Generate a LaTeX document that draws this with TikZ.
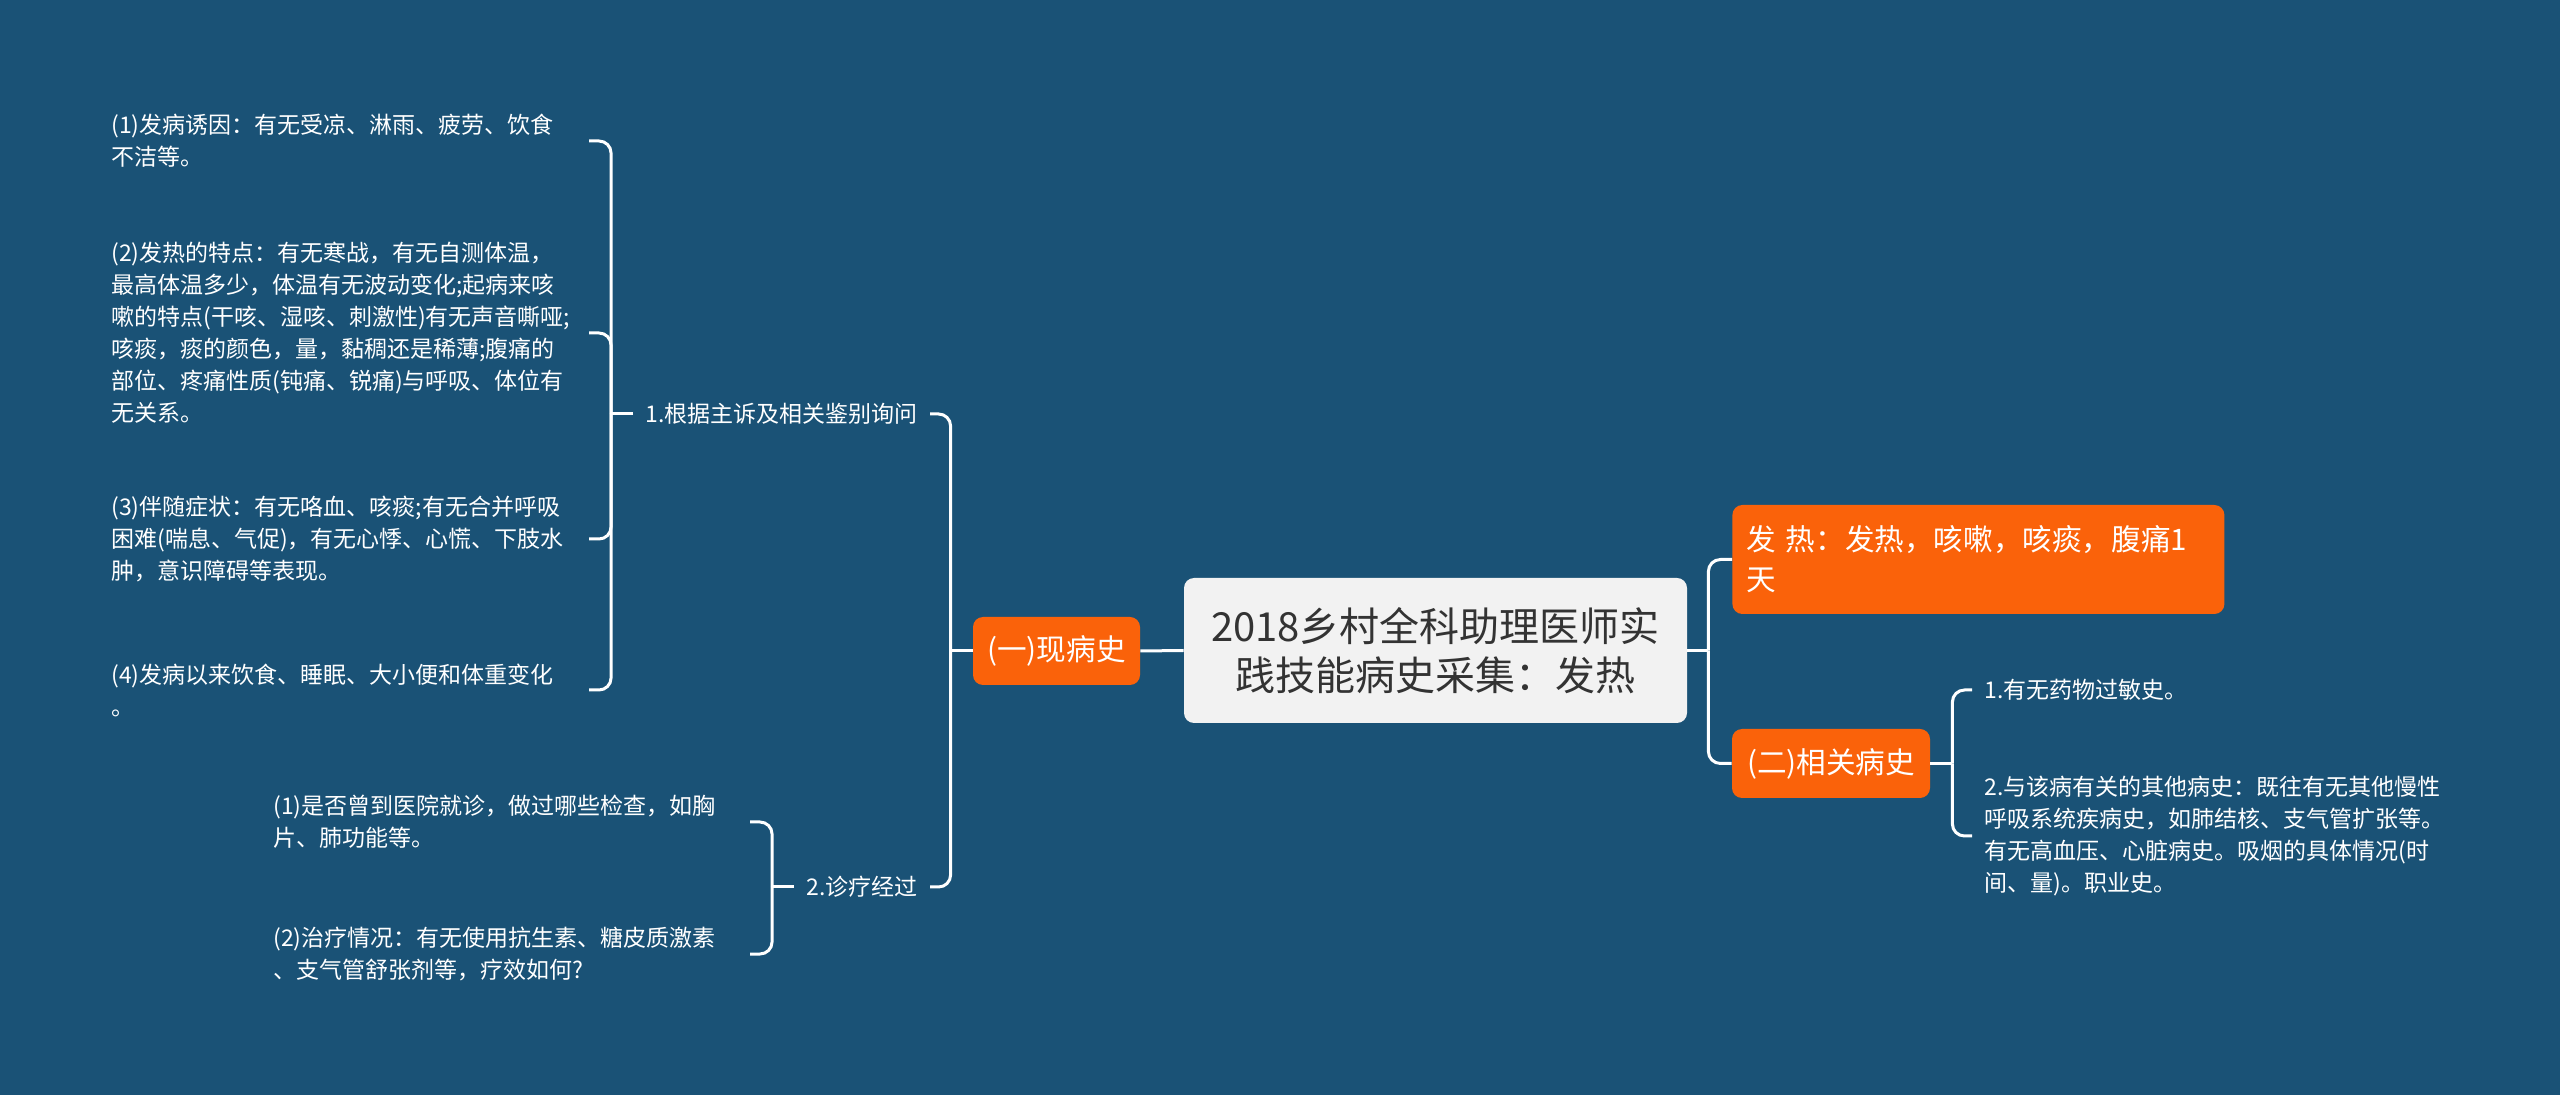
\documentclass[tikz,border=0pt]{standalone}
\usepackage{fontspec}
\setmainfont{Noto Sans CJK SC}
\definecolor{bg}{RGB}{26,82,118}
\definecolor{org}{RGB}{250,98,10}
\definecolor{rootfill}{RGB}{242,242,242}
\definecolor{roottext}{RGB}{51,51,51}
\begin{document}
\begin{tikzpicture}[x=0.5pt,y=-0.5pt,
  conn/.style={draw=white,line width=1.5pt,rounded corners=6pt},
  rootbox/.style={fill=rootfill,text=roottext,rounded corners=5pt,align=center,
    minimum width=251.5pt,minimum height=72.5pt,inner sep=0pt,
    font=\fontsize{20}{24.5}\selectfont},
  topicbox/.style={fill=org,text=white,rounded corners=5pt,inner sep=0pt,
    font=\fontsize{14.8}{20}\selectfont},
  lvltwo/.style={text=white,inner xsep=6pt,inner ysep=0pt,align=left,
    font=\fontsize{11.5}{16}\selectfont},
  leafnode/.style={text=white,inner sep=0pt,align=left,anchor=west,
    font=\fontsize{11.5}{16}\selectfont},
]
\fill[bg] (0,0) rectangle (2560,1095);
\useasboundingbox (0,0) rectangle (2560,1095);

% main nodes
\node[rootbox] (root) at (1435.5,650.5) {2018乡村全科助理医师实\\践技能病史采集：发热};
\node[topicbox,minimum width=83.5pt,minimum height=34pt] (xb) at (1056.5,651) {(一)现病史};
\node[topicbox,anchor=west,minimum height=54.5pt,text width=232pt,inner xsep=7pt,align=left] (fr) at (1732,559.5) {发 热：发热，咳嗽，咳痰，腹痛1\\天};
\node[topicbox,minimum width=99pt,minimum height=34.5pt] (er) at (1831,763.5) {(二)相关病史};

% second level
\node[lvltwo,anchor=east] (a1) at (930,414) {1.根据主诉及相关鉴别询问};
\node[lvltwo,anchor=east] (a2) at (930,887) {2.诊疗经过};
\node[lvltwo,anchor=west] (b1) at (1972,690) {1.有无药物过敏史。};
\node[lvltwo,anchor=west] (b2) at (1972,836) {2.与该病有关的其他病史：既往有无其他慢性\\呼吸系统疾病史，如肺结核、支气管扩张等。\\有无高血压、心脏病史。吸烟的具体情况(时\\间、量)。职业史。};

% leaves
\node[leafnode] (c1) at (111,141) {(1)发病诱因：有无受凉、淋雨、疲劳、饮食\\不洁等。};
\node[leafnode] (c2) at (111,333) {(2)发热的特点：有无寒战，有无自测体温，\\最高体温多少，体温有无波动变化;起病来咳\\嗽的特点(干咳、湿咳、刺激性)有无声音嘶哑;\\咳痰，痰的颜色，量，黏稠还是稀薄;腹痛的\\部位、疼痛性质(钝痛、锐痛)与呼吸、体位有\\无关系。};
\node[leafnode] (c3) at (111,539) {(3)伴随症状：有无咯血、咳痰;有无合并呼吸\\困难(喘息、气促)，有无心悸、心慌、下肢水\\肿，意识障碍等表现。};
\node[leafnode] (c4) at (111,690) {(4)发病以来饮食、睡眠、大小便和体重变化\\。};
\node[leafnode] (d1) at (273,822) {(1)是否曾到医院就诊，做过哪些检查，如胸\\片、肺功能等。};
\node[leafnode] (d2) at (273,954) {(2)治疗情况：有无使用抗生素、糖皮质激素\\、支气管舒张剂等，疗效如何?};

% connectors
\draw[conn] (root.west) -- (xb.east);
\draw[conn] (root.east) -- ++(21,0) coordinate (rj);
\draw[conn] (rj) |- (fr.west);
\draw[conn] (rj) |- (er.west);

\draw[conn] (xb.west) -- ++(-22,0) coordinate (xj);
\draw[conn] (xj) |- (a1.east);
\draw[conn] (xj) |- (a2.east);

\draw[conn] (a1.west) -- ++(-22,0) coordinate (aj);
\path (aj) ++(-22,0) coordinate (ajt);
\draw[conn] (aj) |- (c1.east -| ajt);
\draw[conn] (aj) |- (c2.east -| ajt);
\draw[conn] (aj) |- (c3.east -| ajt);
\draw[conn] (aj) |- (c4.east -| ajt);

\draw[conn] (a2.west) -- ++(-22,0) coordinate (bj);
\path (bj) ++(-22,0) coordinate (bjt);
\draw[conn] (bj) |- (d1.east -| bjt);
\draw[conn] (bj) |- (d2.east -| bjt);

\draw[conn] (er.east) -- ++(22,0) coordinate (ej);
\draw[conn] (ej) |- (b1.west);
\draw[conn] (ej) |- (b2.west);
\end{tikzpicture}
\end{document}
